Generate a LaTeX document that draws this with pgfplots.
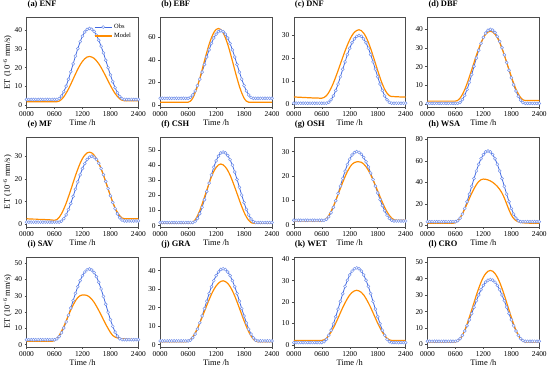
\documentclass[border=0pt]{standalone}
\usepackage{pgfplots}
\usepackage{pgfplotstable}
\pgfplotsset{compat=1.18}
\usepackage{fontspec}
\setmainfont{Liberation Serif}
\definecolor{obsline}{RGB}{65,105,225}
\definecolor{obsmark}{RGB}{115,145,235}
\definecolor{modcol}{RGB}{255,140,0}

\pgfplotstableread{
t a b c d e f g h i j k l
0 3.0 6.0 0.3 0.3 1.0 2.0 1.8 3.5 3.0 2.0 1.0 2.0
0.5 3.0 6.0 0.3 0.3 1.0 2.0 1.8 3.5 3.0 2.0 1.0 2.0
1 3.0 6.0 0.3 0.3 1.0 2.0 1.8 3.5 3.0 2.0 1.0 2.0
1.5 3.0 6.0 0.3 0.3 1.0 2.0 1.8 3.5 3.0 2.0 1.0 2.0
2 3.0 6.0 0.3 0.3 1.0 2.0 1.8 3.5 3.0 2.0 1.0 2.0
2.5 3.0 6.0 0.3 0.3 1.0 2.0 1.8 3.5 3.0 2.0 1.0 2.0
3 3.0 6.0 0.3 0.3 1.0 2.0 1.8 3.5 3.0 2.0 1.0 2.0
3.5 3.0 6.0 0.3 0.3 1.0 2.0 1.8 3.5 3.0 2.0 1.0 2.0
4 3.0 6.0 0.3 0.3 1.0 2.0 1.8 3.5 3.0 2.0 1.0 2.0
4.5 3.0 6.0 0.3 0.3 1.0 2.0 1.8 3.5 3.0 2.0 1.0 2.0
5 3.0 6.0 0.3 0.3 1.0 2.0 1.8 3.5 3.0 2.0 1.0 2.0
5.5 3.0 6.0 0.3 0.3 1.0 2.0 1.8 3.5 3.0 2.0 1.0 2.0
6 3.0 6.0 0.3 0.3 1.0 2.0 1.8 3.5 3.0 2.0 1.0 2.0
6.5 3.0 6.8 0.3 0.3 1.0 2.0 1.8 4.4 3.5 2.4 1.4 2.4
7 3.5 9.0 0.3 0.8 1.0 2.0 2.2 6.8 4.9 3.7 2.5 3.6
7.5 4.9 12.5 0.7 2.3 1.4 2.7 3.2 10.6 7.2 5.7 4.4 5.6
8 7.1 17.3 1.8 4.6 2.5 4.7 4.9 15.8 10.2 8.4 6.8 8.2
8.5 10.1 23.0 3.5 7.8 4.2 7.9 7.1 22.0 13.9 11.8 9.8 11.4
9 13.8 29.3 5.9 11.5 6.5 12.2 9.8 29.0 18.1 15.5 13.1 15.0
9.5 17.8 36.0 8.7 15.7 9.2 17.2 12.8 36.3 22.5 19.5 16.7 18.8
10 22.0 42.7 11.9 20.2 12.3 22.7 15.9 43.5 27.0 23.5 20.3 22.7
10.5 26.2 49.0 15.2 24.6 15.5 28.3 19.0 50.5 31.5 27.6 23.9 26.6
11 30.2 54.7 18.4 28.8 18.7 33.8 22.0 56.7 35.6 31.3 27.3 30.1
11.5 33.9 59.5 21.6 32.5 21.8 38.9 24.7 61.9 39.3 34.6 30.2 33.3
12 36.9 63.0 24.4 35.7 24.6 43.1 26.9 65.7 42.4 37.3 32.7 35.9
12.5 39.1 65.2 26.8 38.0 26.8 46.3 28.6 68.2 44.6 39.3 34.5 37.9
13 40.5 66.0 28.5 39.5 28.6 48.3 29.6 69.0 46.0 40.6 35.6 39.1
13.5 41.0 65.2 29.6 40.0 29.6 49.0 30.0 68.2 46.5 41.0 36.0 39.5
14 40.6 63.0 30.0 39.6 30.0 48.4 29.7 65.7 45.9 40.6 35.6 39.1
14.5 39.4 59.5 29.6 38.3 29.6 46.7 28.9 61.9 44.3 39.3 34.5 37.9
15 37.4 54.7 28.5 36.2 28.6 43.9 27.6 56.7 41.8 37.3 32.7 35.9
15.5 34.7 49.0 26.8 33.5 26.9 40.2 25.8 50.5 38.3 34.6 30.2 33.3
16 31.5 42.7 24.4 30.1 24.6 35.7 23.7 43.5 34.2 31.3 27.3 30.1
16.5 27.9 36.0 21.6 26.3 21.9 30.7 21.2 36.3 29.6 27.6 23.9 26.6
17 24.0 29.3 18.4 22.2 18.9 25.5 18.5 29.0 24.8 23.5 20.3 22.7
17.5 20.0 23.0 15.2 18.1 15.8 20.3 15.8 22.0 19.9 19.5 16.7 18.8
18 16.1 17.3 11.9 14.0 12.6 15.3 13.0 15.8 15.3 15.5 13.1 15.0
18.5 12.5 12.5 8.7 10.2 9.6 10.8 10.3 10.6 11.2 11.8 9.8 11.4
19 9.3 9.0 5.9 6.9 6.9 7.1 7.8 6.8 7.7 8.4 6.8 8.2
19.5 6.6 6.8 3.5 4.1 4.6 4.4 5.7 4.4 5.2 5.7 4.4 5.6
20 4.6 6.0 1.8 2.0 2.9 2.6 3.9 3.5 3.6 3.7 2.5 3.6
20.5 3.4 6.0 0.7 0.7 1.9 2.0 2.6 3.5 3.0 2.4 1.4 2.4
21 3.0 6.0 0.3 0.3 1.5 2.0 1.8 3.5 3.0 2.0 1.0 2.0
21.5 3.0 6.0 0.3 0.3 1.5 2.0 1.5 3.5 3.0 2.0 1.0 2.0
22 3.0 6.0 0.3 0.3 1.5 2.0 1.5 3.5 3.0 2.0 1.0 2.0
22.5 3.0 6.0 0.3 0.3 1.5 2.0 1.5 3.5 3.0 2.0 1.0 2.0
23 3.0 6.0 0.3 0.3 1.5 2.0 1.5 3.5 3.0 2.0 1.0 2.0
23.5 3.0 6.0 0.3 0.3 1.5 2.0 1.5 3.5 3.0 2.0 1.0 2.0
24 3.0 6.0 0.3 0.3 1.5 2.0 1.5 3.5 3.0 2.0 1.0 2.0
}\obs

\pgfplotstableread{
t a b c d e f g h i j k l
0 1.8 2.5 3.0 1.5 2.5 1.5 1.5 2.0 2.0 1.5 2.0 1.5
0.5 1.8 2.5 3.0 1.5 2.4 1.5 1.5 2.0 2.0 1.5 2.0 1.5
1 1.8 2.5 2.9 1.5 2.4 1.5 1.5 2.0 2.0 1.5 2.0 1.5
1.5 1.8 2.5 2.9 1.5 2.3 1.5 1.5 2.0 2.0 1.5 2.0 1.5
2 1.8 2.5 2.8 1.5 2.3 1.5 1.5 2.0 2.0 1.5 2.0 1.5
2.5 1.8 2.5 2.8 1.5 2.2 1.5 1.5 2.0 2.0 1.5 2.0 1.5
3 1.8 2.5 2.7 1.5 2.2 1.5 1.5 2.0 2.0 1.5 2.0 1.5
3.5 1.8 2.5 2.7 1.5 2.1 1.5 1.5 2.0 2.0 1.5 2.0 1.5
4 1.8 2.5 2.6 1.5 2.1 1.5 1.5 2.0 2.0 1.5 2.0 1.5
4.5 1.8 2.5 2.6 1.5 2.0 1.5 1.5 2.0 2.0 1.5 2.0 1.5
5 1.8 2.5 2.6 1.5 2.0 1.5 1.5 2.0 2.0 1.5 2.0 1.5
5.5 1.8 2.5 2.5 1.5 1.9 1.5 1.5 2.0 2.0 1.5 2.0 1.5
6 1.8 2.5 2.5 1.5 1.8 1.5 1.5 2.6 2.4 1.8 2.0 1.5
6.5 1.8 3.5 2.8 1.9 2.1 1.5 1.8 4.3 3.6 2.8 2.3 2.0
7 2.1 6.2 3.6 3.1 3.1 2.1 2.5 7.2 5.6 4.3 3.0 3.4
7.5 3.0 10.8 5.0 5.1 4.7 3.8 3.8 10.9 8.2 6.3 4.3 5.7
8 4.4 16.6 6.9 7.7 6.8 6.5 5.5 15.2 11.2 8.8 5.9 8.7
8.5 6.4 23.7 9.2 10.9 9.3 10.0 7.6 20.0 14.5 11.7 7.9 12.4
9 8.6 31.3 11.8 14.5 12.2 14.3 9.9 25.0 18.0 14.8 10.1 16.6
9.5 11.2 39.2 14.6 18.3 15.2 18.9 12.4 29.8 21.3 18.0 12.5 21.0
10 13.9 46.8 17.5 22.2 18.4 23.6 14.9 34.1 24.3 21.2 15.0 25.5
10.5 16.6 53.9 20.4 26.1 21.5 28.2 17.4 37.8 26.9 24.3 17.4 30.0
11 19.2 59.7 23.2 29.6 24.3 32.5 19.7 40.7 28.9 27.2 19.6 34.1
11.5 21.5 64.3 25.8 32.8 26.9 36.0 21.8 42.4 30.1 29.7 21.6 37.8
12 23.4 67.1 28.1 35.4 29.0 38.7 23.5 43.0 30.5 31.7 23.3 40.9
12.5 24.8 68.0 30.0 37.4 30.5 40.4 24.8 42.8 30.5 33.2 24.5 43.1
13 25.7 67.1 31.4 38.6 31.5 41.0 25.5 42.2 30.2 34.2 25.2 44.5
13.5 26.0 64.3 32.2 39.0 31.8 40.5 25.8 41.3 29.3 34.5 25.5 45.0
14 25.7 59.7 32.5 38.6 31.5 39.0 25.8 40.0 27.9 34.1 25.2 44.5
14.5 25.0 53.9 32.1 37.4 30.5 36.7 25.6 38.3 26.0 33.1 24.5 43.1
15 23.7 46.8 31.0 35.5 29.0 33.6 24.9 36.2 23.6 31.4 23.3 40.9
15.5 22.1 39.2 29.3 32.9 27.0 29.8 23.8 33.5 21.0 29.1 21.6 37.8
16 20.1 31.3 27.0 29.7 24.5 25.6 22.3 30.0 18.2 26.3 19.6 34.1
16.5 17.8 23.7 24.2 26.2 21.7 21.3 20.5 25.5 15.3 23.1 17.4 30.0
17 15.4 16.6 21.1 22.3 18.7 16.9 18.4 20.0 12.5 19.7 15.0 25.5
17.5 12.9 10.8 17.9 18.5 15.6 12.7 16.2 14.5 9.9 16.3 12.5 21.0
18 10.5 6.2 14.6 14.7 12.6 8.9 13.8 9.8 7.5 12.9 10.1 16.6
18.5 8.2 3.5 11.5 11.1 9.8 5.8 11.5 6.5 5.6 9.8 7.9 12.4
19 6.2 2.5 8.7 7.9 7.3 3.5 9.2 4.5 4.6 7.0 5.9 8.7
19.5 4.6 2.5 6.4 5.4 5.3 2.0 7.1 3.4 4.1 4.7 4.3 5.7
20 3.3 2.5 4.7 3.4 3.8 1.5 5.3 2.8 3.8 2.9 3.0 3.4
20.5 2.6 2.5 3.6 2.2 2.8 1.5 3.8 2.5 3.6 1.9 2.3 2.0
21 2.3 2.5 3.2 1.8 2.5 1.5 2.7 2.3 3.5 1.5 2.0 1.5
21.5 2.3 2.5 3.2 1.8 2.5 1.5 2.0 2.2 3.4 1.5 2.0 1.5
22 2.3 2.5 3.1 1.8 2.5 1.5 1.8 2.1 3.3 1.5 2.0 1.5
22.5 2.3 2.5 3.1 1.8 2.5 1.5 1.8 2.0 3.2 1.5 2.0 1.5
23 2.3 2.5 3.0 1.8 2.5 1.5 1.8 2.0 3.1 1.5 2.0 1.5
23.5 2.3 2.5 3.0 1.8 2.5 1.5 1.8 2.0 3.0 1.5 2.0 1.5
24 2.3 2.5 3.0 1.8 2.5 1.5 1.8 2.0 3.0 1.5 2.0 1.5
}\model

\pgfplotsset{
  common/.style={
    scale only axis, width=113pt, height=91pt,
    xmin=0, xmax=24, xtick={0,6,12,18,24},
    xticklabels={0000,0600,1200,1800,2400},
    xlabel={Time /h},
    tick align=outside, tick pos=left, major tick length=2pt,
    tick label style={font=\fontsize{7.5}{8}\selectfont},
    xticklabel style={yshift=1pt},
    yticklabel style={xshift=1pt},
    label style={font=\fontsize{8.5}{9}\selectfont},
    xlabel style={yshift=4pt},
    ylabel style={yshift=-4pt},
    title style={at={(0,1)}, anchor=south west, font=\bfseries\fontsize{8.5}{10}\selectfont, inner sep=1pt, yshift=1.5pt},
    axis line style={black!70},
    every tick/.style={black!70},
    /pgf/number format/assume math mode=true,
    legend style={draw=none, fill=none, at={(0.98,0.97)}, anchor=north east, font=\fontsize{6.5}{7}\selectfont, row sep=-1pt},
    legend cell align=left,
  },
  obsstyle/.style={color=obsline, line width=0.8pt, mark=*, mark size=1.5pt,
    mark options={draw=obsmark, fill=white, line width=0.5pt, solid}},
  modstyle/.style={color=modcol, line width=1.2pt, no markers, smooth},
}

\newcommand\panel[7]{%
  \begin{axis}[common, at={(#1,#2)}, ymin=#4, ymax=#5, ytick={#6}, #7]
    \addplot[obsstyle] table[x=t,y=#3]{\obs};
    \addplot[modstyle] table[x=t,y=#3]{\model};
  \end{axis}}

\begin{document}
\begin{tikzpicture}
\panel{0pt}{242pt}{a}{-1.2}{47}{0,10,20,30,40}{title={(a) ENF}, ylabel={ET (10\textsuperscript{−6} mm/s)}, legend entries={Obs,Model}}
\panel{135pt}{242pt}{b}{-2}{78}{0,20,40,60}{title={(b) EBF}}
\panel{270pt}{242pt}{c}{-1.5}{38}{0,10,20,30}{title={(c) DNF}}
\panel{405pt}{242pt}{d}{-1.8}{46.5}{0,10,20,30,40}{title={(d) DBF}}
\panel{0pt}{121pt}{e}{-1.2}{38.5}{0,10,20,30}{title={(e) MF}, ylabel={ET (10\textsuperscript{−6} mm/s)}}
\panel{135pt}{121pt}{f}{-1}{59}{0,10,20,30,40,50}{title={(f) CSH}}
\panel{270pt}{121pt}{g}{-1}{36}{0,10,20,30}{title={(g) OSH}}
\panel{405pt}{121pt}{h}{-1.5}{82}{0,20,40,60,80}{title={(h) WSA}}
\panel{0pt}{0pt}{i}{-1.4}{54}{0,10,20,30,40,50}{title={(i) SAV}, ylabel={ET (10\textsuperscript{−6} mm/s)}}
\panel{135pt}{0pt}{j}{-1.2}{47.5}{0,10,20,30,40}{title={(j) GRA}}
\panel{270pt}{0pt}{k}{-1}{41.2}{0,10,20,30,40}{title={(k) WET}}
\panel{405pt}{0pt}{l}{-1.4}{53.3}{0,10,20,30,40,50}{title={(l) CRO}}
\end{tikzpicture}
\end{document}
